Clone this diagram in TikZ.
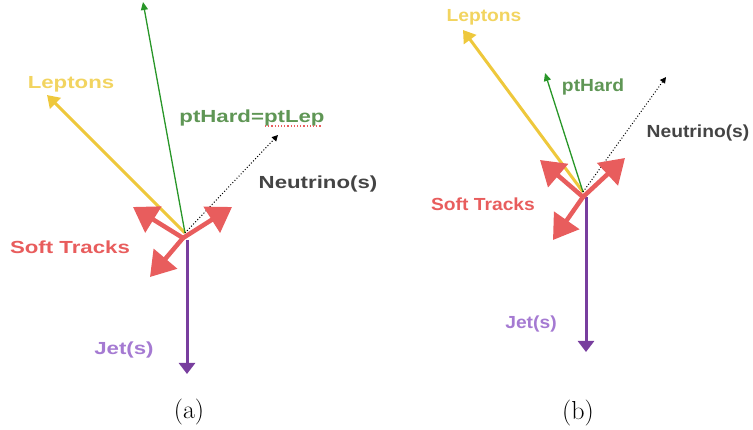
\documentclass[tikz,border=0pt]{standalone}
\usepackage{fontspec}
\usepackage{xcolor}
\usetikzlibrary{arrows.meta}
\newfontfamily\lblfont[FakeStretch=1.27]{Liberation Sans}
\newfontfamily\lblfontb[FakeStretch=1.1]{Liberation Sans}
\definecolor{lepcol}{RGB}{238,200,60}
\definecolor{leptext}{RGB}{242,212,96}
\definecolor{hardcol}{RGB}{40,150,40}
\definecolor{hardtext}{RGB}{95,150,85}
\definecolor{jetcol}{RGB}{120,62,158}
\definecolor{jettext}{RGB}{165,122,210}
\definecolor{softcol}{RGB}{232,93,93}
\definecolor{nutext}{RGB}{68,68,68}

\begin{document}
\begin{tikzpicture}[x=1pt,y=1pt]
    \tikzset{lbl/.style={font=\lblfont\bfseries\fontsize{17.5}{20}\selectfont,inner sep=0pt},
        lblb/.style={font=\lblfontb\bfseries\fontsize{17.5}{20}\selectfont,inner sep=0pt},
        lepton/.style={draw=lepcol,line width=3pt,-{Triangle[length=12pt,width=15pt]}},
        hard/.style={draw=hardcol,line width=1.3pt,-{Triangle[length=8pt,width=7pt]}},
        neutrino/.style={draw=black,line width=1pt,dotted,-{Triangle[length=6pt,width=6pt]}},
        jet/.style={draw=jetcol,line width=3pt,-{Triangle[length=11pt,width=16pt]}},
        soft/.style={draw=softcol,line width=4.5pt,-{Triangle[length=24pt,width=30pt]}},
        caption/.style={font=\fontsize{26}{30}\selectfont,inner sep=0pt}}
    \useasboundingbox (0,0) rectangle (753,430);
    % panel (a)
    \coordinate (Oa) at (185,197);
    \coordinate (Ja) at (187,190);
    \coordinate (Sa) at (183,192);
    \coordinate (lepA) at (47,335);
    \coordinate (hardA) at (143,428);
    \coordinate (nuA) at (278,295);
    \coordinate (jetA) at (187,56);
    \coordinate (softA1) at (133,223);
    \coordinate (softA2) at (232,223);
    \coordinate (softA3) at (150,153);
    \draw[lepton] (Oa) -- (lepA);
    \draw[hard] (Oa) -- (hardA);
    \draw[neutrino] (Oa) -- (nuA);
    \draw[jet] (Ja) -- (jetA);
    \foreach \t in {softA1,softA2,softA3}
        \draw[soft] (Sa) -- (\t);
    \node[lbl,text=leptext] (lblLepA) at (71,346) {Leptons};
    \node[lbl,text=hardtext] (lblHardA) at (252,312) {ptHard=ptLep};
    \draw[softcol,line width=1.2pt,dotted] (265,304) -- (322,304);
    \node[lbl,text=nutext] (lblNuA) at (318,246) {Neutrino(s)};
    \node[lbl,text=softcol] (lblSoftA) at (70,183) {Soft Tracks};
    \node[lbl,text=jettext] (lblJetA) at (124,80) {Jet(s)};
    \node[caption] (capA) at (189,18) {(a)};
    % panel (b)
    \coordinate (Ob) at (583,238);
    \coordinate (Jb) at (586,233);
    \coordinate (Sb) at (583,233);
    \coordinate (lepB) at (463,400);
    \coordinate (hardB) at (545,357);
    \coordinate (nuB) at (666,353);
    \coordinate (jetB) at (586,78);
    \coordinate (softB1) at (540,270);
    \coordinate (softB2) at (625,272);
    \coordinate (softB3) at (553,190);
    \draw[lepton] (Ob) -- (lepB);
    \draw[hard] (Ob) -- (hardB);
    \draw[neutrino] (Ob) -- (nuB);
    \draw[jet] (Jb) -- (jetB);
    \foreach \t in {softB1,softB2,softB3}
        \draw[soft] (Sb) -- (\t);
    \node[lblb,text=leptext] (lblLepB) at (484,413) {Leptons};
    \node[lblb,text=hardtext] (lblHardB) at (593,343) {ptHard};
    \node[lblb,text=nutext] (lblNuB) at (698,297) {Neutrino(s)};
    \node[lblb,text=softcol] (lblSoftB) at (483,226) {Soft Tracks};
    \node[lblb,text=jettext] (lblJetB) at (531,106) {Jet(s)};
    \node[caption] (capB) at (578,17) {(b)};
\end{tikzpicture}
\end{document}
